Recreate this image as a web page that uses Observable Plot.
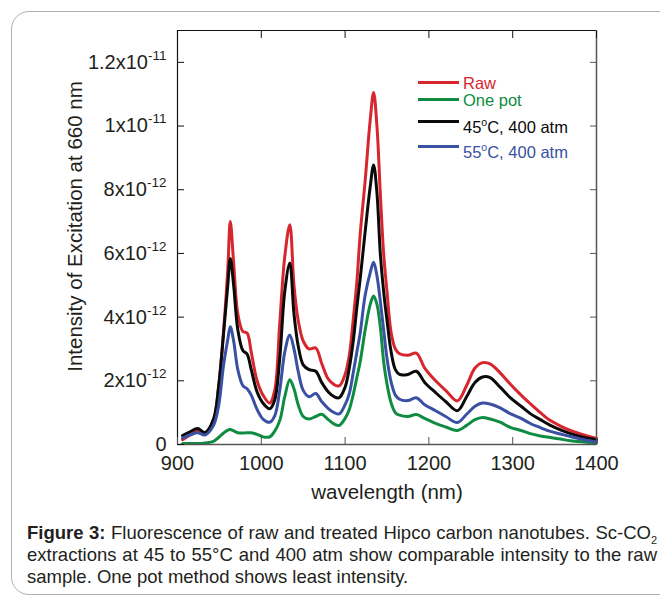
<!DOCTYPE html>
<html><head><meta charset="utf-8">
<script src="https://cdn.jsdelivr.net/npm/d3@7"></script>
<script src="https://cdn.jsdelivr.net/npm/@observablehq/plot@0.6"></script>
<style>
html,body{margin:0;padding:0;background:#fff;}
body{width:660px;height:596px;overflow:hidden;position:relative;font-family:"Liberation Sans",Arial,sans-serif;color:#231f20;}
#card{position:absolute;left:11px;top:11px;width:720px;height:584px;border:1.5px solid #b0b0b0;border-radius:18px;box-sizing:border-box;}
#chart{position:absolute;left:0;top:0;}
.lg-line{position:absolute;left:418px;width:41px;height:3px;}
.lg-text{position:absolute;left:463px;font-size:16.5px;line-height:20px;white-space:nowrap;}
.lg-text sup{font-size:10.5px;vertical-align:0;position:relative;top:-7px;}
#caption{position:absolute;left:27px;top:522px;width:630px;font-size:18.5px;line-height:22px;color:#231f20;}
#caption .ln{white-space:nowrap;height:22px;}
#caption .just{text-align:justify;text-align-last:justify;}
#caption sub{font-size:11px;vertical-align:0;position:relative;top:5px;}
</style>
</head><body>
<div id="card"></div>
<div id="chart"></div>
<div id="legend"></div>
<div id="caption"></div>
<script>
// ---- data (intensity values in units of 1e-12) ----
const wavelength = [906,915,924,933,943,949,955,960,963,967,972,978,983,988,995,1002,1010,1016,1022,1028,1034,1039,1044,1050,1057,1065,1072,1080,1087,1093,1100,1105,1110,1114,1118,1124,1130,1134,1138,1142,1146,1150,1155,1160,1165,1175,1185,1195,1208,1220,1234,1245,1255,1264,1273,1285,1297,1310,1321,1333,1345,1357,1369,1385,1400];
const raw = [0.15,0.3,0.42,0.35,0.75,1.8,3.56,5.5,7.0,5.7,4.1,3.55,3.5,2.9,2.0,1.55,1.3,1.7,3.8,5.9,6.9,5.0,3.9,3.25,3.0,3.03,2.55,2.05,1.88,1.84,2.2,2.8,4.0,5.1,6.6,8.3,10.2,11.05,10.0,7.9,6.0,4.8,3.5,3.0,2.85,2.8,2.87,2.4,2.0,1.7,1.37,1.85,2.4,2.57,2.53,2.25,1.9,1.55,1.28,1.0,0.75,0.58,0.44,0.3,0.19];
const onePot = [0.03,0.03,0.03,0.05,0.1,0.22,0.36,0.45,0.47,0.43,0.37,0.36,0.37,0.37,0.32,0.24,0.24,0.42,0.75,1.5,2.03,1.75,1.25,0.88,0.8,0.88,0.95,0.78,0.64,0.6,0.82,1.1,1.6,2.1,2.6,3.6,4.4,4.66,4.4,3.7,2.6,1.9,1.3,1.0,0.92,0.88,0.94,0.82,0.66,0.55,0.44,0.6,0.78,0.85,0.8,0.7,0.54,0.44,0.34,0.27,0.22,0.17,0.12,0.08,0.05];
const c45 = [0.28,0.4,0.5,0.38,0.8,1.8,3.5,5.0,5.84,5.0,3.6,2.95,2.84,2.35,1.65,1.3,1.12,1.4,2.7,4.8,5.7,4.1,3.1,2.5,2.35,2.3,1.95,1.65,1.5,1.47,1.8,2.4,3.3,4.3,5.2,6.7,8.1,8.78,7.9,6.0,4.8,3.9,2.9,2.35,2.2,2.2,2.3,1.95,1.63,1.35,1.06,1.5,1.95,2.12,2.1,1.8,1.47,1.2,0.97,0.78,0.6,0.46,0.34,0.22,0.15];
const c55 = [0.2,0.3,0.37,0.3,0.6,1.2,2.5,3.3,3.7,3.25,2.35,1.85,1.75,1.55,1.1,0.8,0.7,0.9,1.7,2.9,3.44,3.0,2.3,1.7,1.5,1.6,1.35,1.13,1.0,0.96,1.25,1.6,2.3,2.9,3.5,4.7,5.4,5.72,5.3,4.5,3.6,2.7,1.95,1.55,1.42,1.38,1.47,1.25,1.06,0.88,0.69,0.95,1.2,1.3,1.27,1.15,0.97,0.82,0.66,0.53,0.41,0.33,0.25,0.15,0.08];

const seriesNames = ["Raw", "One pot", "45°C, 400 atm", "55°C, 400 atm"];
const seriesColors = ["#d7262e", "#0f8c42", "#0a0a0a", "#3a50a3"];
const seriesValues = [raw, onePot, c45, c55];

const xTicks = [900, 1000, 1100, 1200, 1300, 1400];
const yTicks = [0, 2e-12, 4e-12, 6e-12, 8e-12, 1e-11, 1.2e-11];
const yTickLabels = ["0", "2x10^-12", "4x10^-12", "6x10^-12", "8x10^-12", "1x10^-11", "1.2x10^-11"];
const xDomain = [900, 1400];
const yDomain = [0, 1.3e-11];
const xLabel = "wavelength (nm)";
const yLabel = "Intensity of Excitation at 660 nm";
const captionBold = "Figure 3:";
const captionLines = [
  " Fluorescence of raw and treated Hipco carbon nanotubes. Sc-CO<sub>2</sub>",
  "extractions at 45 to 55°C and 400 atm show comparable intensity to the raw",
  "sample. One pot method shows least intensity."
];

// ---- build table ----
const table = seriesNames.flatMap((name, s) =>
  wavelength.map((w, i) => ({wl: w, v: seriesValues[s][i] * 1e-12, name})));
const yLabelMap = new Map(yTicks.map((t, i) => [t, yTickLabels[i]]));

const gray = "#555";
const plot = Plot.plot({
  width: 660, height: 510,
  marginLeft: 177, marginRight: 64, marginTop: 30, marginBottom: 66,
  style: {fontFamily: "'Liberation Sans', Arial, sans-serif", fontSize: "20px", color: "#231f20", background: "transparent", overflow: "visible"},
  x: {domain: xDomain},
  y: {domain: yDomain},
  color: {domain: seriesNames, range: seriesColors},
  marks: [
    Plot.line(table, {x: "wl", y: "v", z: "name", stroke: "name", strokeWidth: 3, curve: "catmull-rom"}),
    Plot.ruleX([xDomain[0]], {stroke: "#111", strokeWidth: 1.2}),
    Plot.ruleY([yDomain[1]], {stroke: "#111", strokeWidth: 1.2}),
    Plot.ruleX([xDomain[1]], {stroke: gray, strokeWidth: 1.5}),
    Plot.ruleY([yDomain[0]], {stroke: gray, strokeWidth: 1.5}),
    // inward ticks
    Plot.axisY(yTicks, {anchor: "left", fill: "none", stroke: "#111", tickSize: 7, dx: 7, label: null}),
    Plot.axisY(yTicks, {anchor: "right", fill: "none", stroke: gray, tickSize: 7, dx: -7, label: null}),
    Plot.axisX(xTicks, {anchor: "bottom", fill: "none", stroke: gray, tickSize: 7, dy: -7, label: null}),
    Plot.axisX(xTicks, {anchor: "top", fill: "none", stroke: "#111", tickSize: 7, dy: 7, label: null}),
    // tick labels
    Plot.axisY(yTicks, {anchor: "left", tickSize: 0, tickPadding: 11, tickFormat: d => yLabelMap.get(d), label: null}),
    Plot.axisX(xTicks, {anchor: "bottom", tickSize: 0, tickPadding: 11, tickFormat: d => String(d), label: null}),
    // axis titles
    Plot.text([yLabel], {frameAnchor: "left", textAnchor: "middle", dx: -102, dy: -11, rotate: -90, fontSize: 20.5}),
    Plot.text([xLabel], {frameAnchor: "bottom", textAnchor: "middle", dy: 54, fontSize: 20.5})
  ]
});
document.getElementById("chart").appendChild(plot);

// superscript exponents in y tick labels
const ns = "http://www.w3.org/2000/svg";
plot.querySelectorAll('g[aria-label="y-axis tick label"] text').forEach(t => {
  const s = t.textContent;
  const k = s.indexOf("^");
  if (k < 0) return;
  t.textContent = "";
  const a = document.createElementNS(ns, "tspan");
  a.textContent = s.slice(0, k);
  const b = document.createElementNS(ns, "tspan");
  b.textContent = s.slice(k + 1);
  b.setAttribute("dy", "-9");
  b.setAttribute("font-size", "13.5px");
  t.appendChild(a); t.appendChild(b);
});

// legend
const legendLineY = [82, 99, 121, 146];
const legendTextY = [83, 100, 127, 152];
const legend = document.getElementById("legend");
seriesNames.forEach((name, i) => {
  const ln = document.createElement("div");
  ln.className = "lg-line";
  ln.style.top = (legendLineY[i] - 1.5) + "px";
  ln.style.background = seriesColors[i];
  legend.appendChild(ln);
  const tx = document.createElement("div");
  tx.className = "lg-text";
  tx.style.top = (legendTextY[i] - 10) + "px";
  tx.style.color = seriesColors[i];
  tx.innerHTML = name.replace("°", "<sup>o</sup>");
  legend.appendChild(tx);
});

// caption
const cap = document.getElementById("caption");
captionLines.forEach((line, i) => {
  const d = document.createElement("div");
  d.className = "ln" + (i < captionLines.length - 1 ? " just" : "");
  d.innerHTML = (i === 0 ? "<b>" + captionBold + "</b>" : "") + line;
  cap.appendChild(d);
});
</script>
</body></html>
